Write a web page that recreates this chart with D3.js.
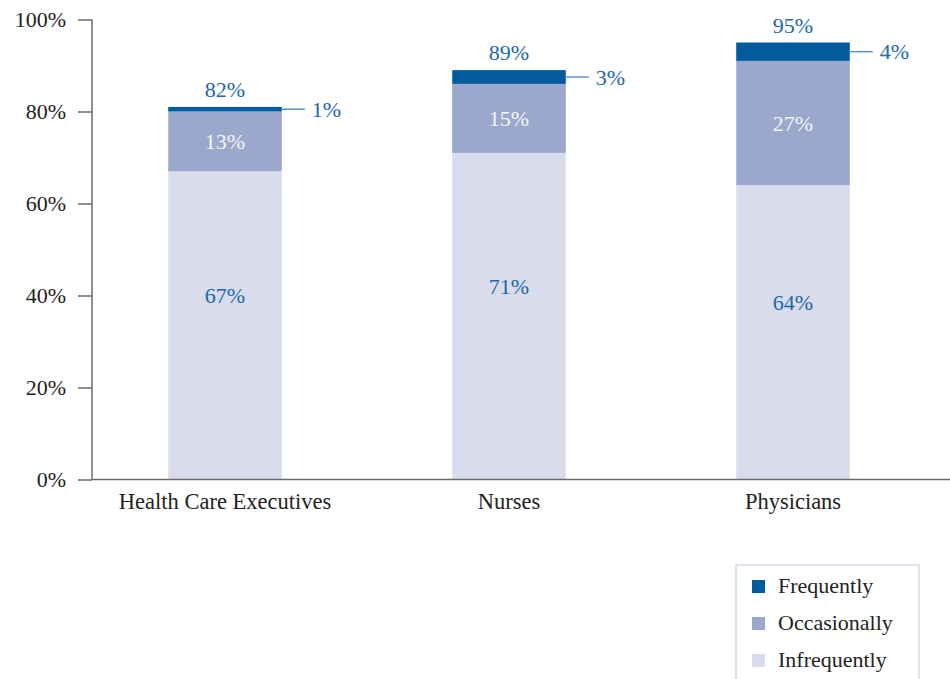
<!DOCTYPE html>
<meta charset="utf-8">
<html>
<head>
  <style>
    body { margin: 0; background: #fff; }
    svg { display: block; }
    text { font-family: 'Liberation Serif', 'DejaVu Serif', serif; }
  </style>
  <script src="https://d3js.org/d3.v7.min.js"></script>
</head>
<body>
  <svg width="950" height="679"></svg>
  <script>
    // data
    var categories = ["Health Care Executives", "Nurses", "Physicians"];
    var infrequently = [67, 71, 64];
    var occasionally = [13, 15, 27];
    var frequently = [1, 3, 4];
    var totals = [82, 89, 95];
    var seriesNames = ["Frequently", "Occasionally", "Infrequently"];
    var yTicks = [0, 20, 40, 60, 80, 100];

    var colors = {
      Frequently: "#015c9e",
      Occasionally: "#9aa8cb",
      Infrequently: "#d9dcec"
    };
    var labelBlue = "#2168aa";

    var svg = d3.select("svg");

    // plot area
    var plotLeft = 92, plotTop = 19.5, plotBottom = 479.5, plotRight = 950;

    var x = d3.scaleBand()
      .domain(categories)
      .range([83, 935])
      .paddingInner(0.6)
      .paddingOuter(0.3);

    var y = d3.scaleLinear().domain([0, 100]).range([plotBottom, plotTop]);

    // build stacked rows
    var rows = categories.map(function(c, i) {
      return { cat: c, Infrequently: infrequently[i], Occasionally: occasionally[i], Frequently: frequently[i], total: totals[i] };
    });
    var stack = d3.stack().keys(["Infrequently", "Occasionally", "Frequently"]);
    var layers = stack(rows);

    // bars
    var layer = svg.selectAll(".layer")
      .data(layers)
      .enter().append("g")
        .attr("class", "layer")
        .attr("fill", function(d) { return colors[d.key]; });

    layer.selectAll("rect")
      .data(function(d) { return d; })
      .enter().append("rect")
        .attr("x", function(d) { return x(d.data.cat); })
        .attr("width", x.bandwidth())
        .attr("y", function(d) { return y(d[1]); })
        .attr("height", function(d) { return y(d[0]) - y(d[1]); });

    // segment labels inside bars (infrequently sits a bit above its middle)
    layers.slice(0, 2).forEach(function(l) {
      var isOcc = l.key == "Occasionally";
      svg.append("g").selectAll("text")
        .data(l)
        .enter().append("text")
          .attr("x", function(d) { return x(d.data.cat) + x.bandwidth() / 2; })
          .attr("y", function(d) { return (y(d[0]) + y(d[1])) / 2 - (isOcc ? 0 : 30); })
          .attr("dy", "0.35em")
          .attr("text-anchor", "middle")
          .attr("font-size", 22)
          .attr("fill", isOcc ? "#f4f5fa" : labelBlue)
          .text(function(d) { return (d[1] - d[0]) + "%"; });
    });

    // frequently: leader line and label to the right
    var freq = layers[2];
    svg.append("g").selectAll("line")
      .data(freq)
      .enter().append("line")
        .attr("x1", function(d) { return x(d.data.cat) + x.bandwidth(); })
        .attr("x2", function(d) { return x(d.data.cat) + x.bandwidth() + 23; })
        .attr("y1", function(d) { return (y(d[0]) + y(d[1])) / 2; })
        .attr("y2", function(d) { return (y(d[0]) + y(d[1])) / 2; })
        .attr("stroke", "#5d94c2")
        .attr("stroke-width", 1.5);

    svg.append("g").selectAll("text")
      .data(freq)
      .enter().append("text")
        .attr("x", function(d) { return x(d.data.cat) + x.bandwidth() + 30; })
        .attr("y", function(d) { return (y(d[0]) + y(d[1])) / 2; })
        .attr("dy", "0.35em")
        .attr("font-size", 22)
        .attr("fill", labelBlue)
        .text(function(d) { return (d[1] - d[0]) + "%"; });

    // totals above bars
    svg.append("g").selectAll("text")
      .data(freq)
      .enter().append("text")
        .attr("x", function(d) { return x(d.data.cat) + x.bandwidth() / 2; })
        .attr("y", function(d) { return y(d[1]) - 10; })
        .attr("text-anchor", "middle")
        .attr("font-size", 22)
        .attr("fill", labelBlue)
        .text(function(d) { return d.data.total + "%"; });

    // y axis
    var yAxis = svg.append("g")
      .attr("transform", "translate(" + plotLeft + ",0)")
      .call(d3.axisLeft(y).tickValues(yTicks).tickSize(14).tickPadding(12)
        .tickFormat(function(d) { return d + "%"; }));
    yAxis.select(".domain").attr("stroke", "#6b6b6b").attr("stroke-width", 1.5)
      .attr("d", "M0," + plotTop + "V" + plotBottom);
    yAxis.selectAll(".tick line").attr("stroke", "#6b6b6b").attr("stroke-width", 1.5);
    yAxis.selectAll(".tick text").attr("font-size", 22).attr("fill", "#222");

    // x axis
    var xAxis = svg.append("g")
      .attr("transform", "translate(0," + plotBottom + ")")
      .call(d3.axisBottom(x).tickSize(0).tickPadding(14));
    xAxis.select(".domain").attr("stroke", "#6b6b6b").attr("stroke-width", 1.5)
      .attr("d", "M" + plotLeft + ",0H" + plotRight);
    xAxis.selectAll(".tick text").attr("font-size", 22.5).attr("fill", "#222");

    // legend
    var legend = svg.append("g").attr("transform", "translate(736,565)");
    legend.append("rect")
      .attr("x", 0).attr("y", 0)
      .attr("width", 183).attr("height", 130)
      .attr("fill", "none")
      .attr("stroke", "#d3d7ea")
      .attr("stroke-width", 1.5);

    var item = legend.selectAll(".item")
      .data(seriesNames)
      .enter().append("g")
        .attr("class", "item")
        .attr("transform", function(d, i) { return "translate(16," + (15 + i * 37) + ")"; });

    item.append("rect")
      .attr("width", 13).attr("height", 13)
      .attr("fill", function(d) { return colors[d]; });

    item.append("text")
      .attr("x", 26)
      .attr("y", 13)
      .attr("font-size", 22)
      .attr("fill", "#222")
      .text(function(d) { return d; });
  </script>
</body>
</html>
